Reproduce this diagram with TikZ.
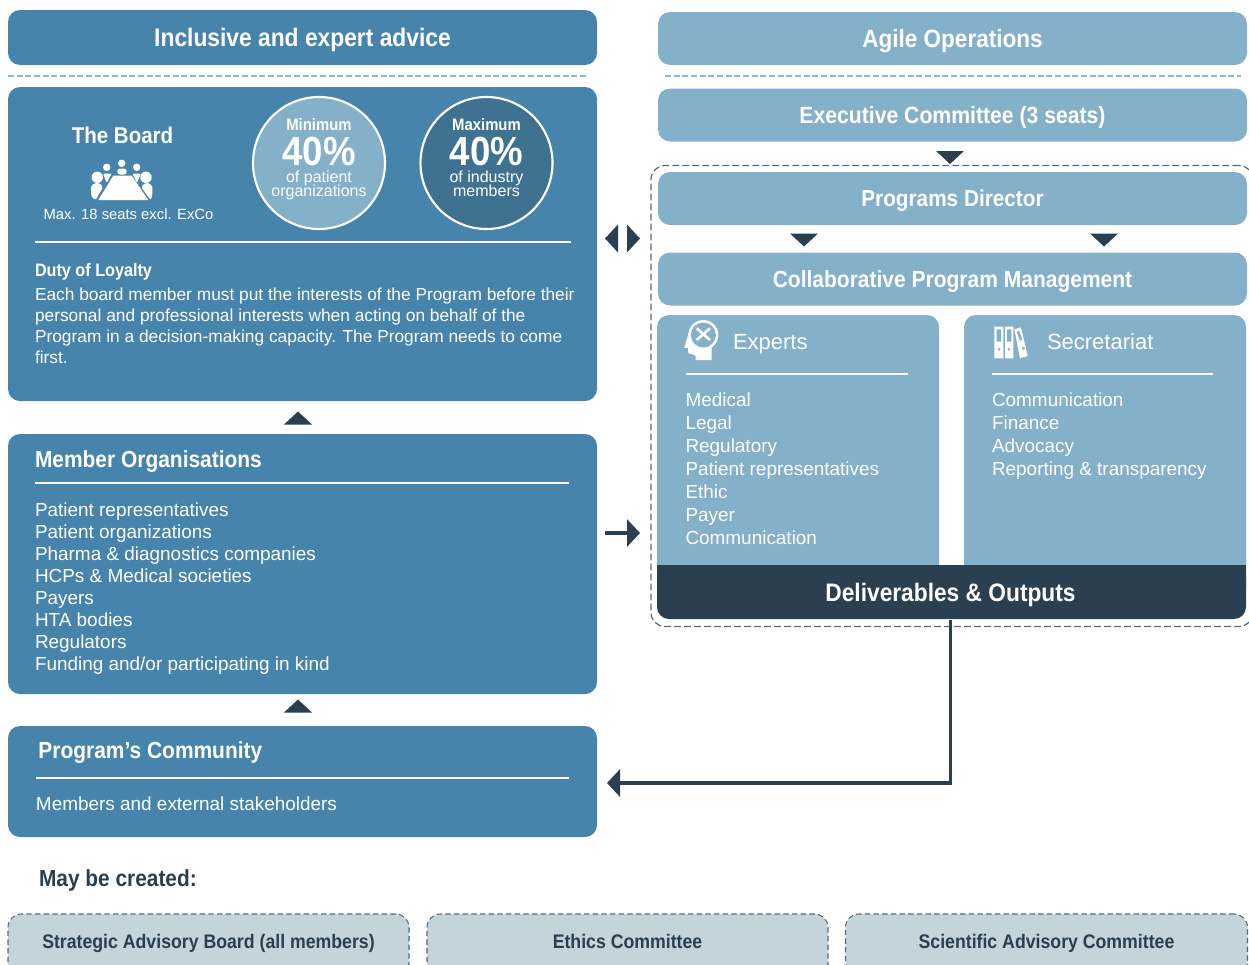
\documentclass[tikz,border=0pt]{standalone}
\usepackage{fontspec}
\setmainfont[BoldFeatures={FakeStretch=0.9}]{Liberation Sans}
\usetikzlibrary{shapes.geometric,arrows.meta}
\definecolor{boxblue}{HTML}{4784AB}
\definecolor{lightblue}{HTML}{84B0CA}
\definecolor{circleblue}{HTML}{3F7191}
\definecolor{darkblue}{HTML}{2A3F4F}
\definecolor{greyblue}{HTML}{C5D4DB}
\definecolor{ruleblue}{HTML}{8FB8D0}
\definecolor{dashgrey}{HTML}{56697A}
\newcommand{\fs}[1]{\fontsize{#1}{#1}\selectfont}
\begin{document}
\begin{tikzpicture}[x=0.75pt,y=-0.75pt,inner sep=0pt,outer sep=0pt,
>={Triangle[length=9.75pt,width=20.25pt]},
boldtext/.style={text=white,font=\bfseries\fs{#1},text height=#1*0.716pt,text depth=0pt},
plaintext/.style={text=white,font=\fs{#1},text height=#1*0.716pt,text depth=0pt},
darkbox/.style={rectangle,rounded corners=9pt,fill=boxblue,minimum width=589*0.75pt},
headbox/.style={rectangle,rounded corners=9pt,fill=lightblue,boldtext=#1,minimum width=589*0.75pt,minimum height=53*0.75pt},
dashbox/.style={rectangle,rounded corners=10pt,fill=greyblue,draw=dashgrey,dash pattern=on 4pt off 2.5pt,line width=0.8pt,minimum width=401*0.75pt,minimum height=70*0.75pt},
tridown/.style={isosceles triangle,isosceles triangle apex angle=92,isosceles triangle stretches,fill=darkblue,minimum width=28*0.75pt,minimum height=13*0.75pt,shape border rotate=-90},
triup/.style={tridown,shape border rotate=90},
trileft/.style={tridown,shape border rotate=180},
triright/.style={tridown,shape border rotate=0},
title/.style={text=white,font=\bfseries\fs{17.45},anchor=base west},
bodytext/.style={text=white,align=left,anchor=north west,font=\fontsize{14.2}{16.5}\selectfont},
whiterule/.style={white,line width=1.4pt},
pct/.style={circle,draw=white,line width=1.6pt,minimum size=132*0.75pt}]
\clip (0,0) rectangle (1249,964);
\useasboundingbox (0,0) rectangle (1249,964);
\draw (302.5,37.5) node[darkbox,minimum height=55*0.75pt,boldtext=19] (advice) {Inclusive and expert advice};
\draw (952.5,38.5) node[headbox=18.8] (agile) {Agile Operations};
\draw[ruleblue,dash pattern=on 4.5pt off 2pt,line width=0.9pt] (advice.south west) ++(0,11) -- ++(579,0);
\draw[ruleblue,dash pattern=on 4.5pt off 2pt,line width=0.9pt] (agile.south west) ++(7,11) -- ++(576,0);
\draw (302.5,244) node[darkbox,minimum height=314*0.75pt] (board) {};
\draw (122.5,135) node[boldtext=17.1] (boardname) {The Board};
\fill[white] (98.3,200) -- (113.3,175.7) -- (131.7,175.7) -- (148.3,200) -- cycle;
\fill[white] (121.7,163.3) circle (3.7) (106.7,167.3) circle (3.7) (136.7,167.3) circle (3.7) (97.3,177.3) circle (5.7) (146,177.3) circle (5.7);
\fill[white,rounded corners=2pt] (117.3,174.5) -- (117.3,168.5) -- (126.7,168.5) -- (126.7,174.5) -- cycle;
\fill[white,rounded corners=1pt] (103,173.5) -- (111.7,173.5) -- (106.7,183) -- cycle;
\fill[white,rounded corners=1pt] (141,173.5) -- (132.3,173.5) -- (137,183) -- cycle;
\fill[white,rounded corners=1.5pt] (91,196.7) -- (91,185) -- (98.3,182.3) -- (103.3,186.7) -- (95.7,200) -- cycle;
\fill[white,rounded corners=1.5pt] (152.3,196.7) -- (152.3,185) -- (146,182.3) -- (141,186.7) -- (150.5,200) -- cycle;
\draw (128.5,214) node[plaintext=11.1] (seats) {Max. 18 seats excl. ExCo};
\draw (319,163) node[pct,fill=lightblue] (mincircle) {};
\draw (486.5,163) node[pct,fill=circleblue] (maxcircle) {};
\draw (319,124.5) node[boldtext=12.4] (minlabel) {Minimum};
\draw (319,151) node[boldtext=30.5] (minpct) {40\%};
\draw (319,176.5) node[plaintext=12] (mintext) {of patient};
\draw (319,191) node[plaintext=12] (minorgs) {organizations};
\draw (486.5,124.5) node[boldtext=12.4] (maxlabel) {Maximum};
\draw (486.5,151) node[boldtext=30.5] (maxpct) {40\%};
\draw (486.5,176.5) node[plaintext=12] (maxtext) {of industry};
\draw (486.5,191) node[plaintext=12] (maxmembers) {members};
\draw[whiterule] (35,242) -- (571,242);
\draw (35,276.5) node[title,font=\bfseries\fs{13.5}] (duty) {Duty of Loyalty};
\draw (35,288) node[bodytext,font=\fontsize{13}{15.75}\selectfont] (dutytext) {Each board member must put the interests of the Program before their\\personal and professional interests when acting on behalf of the\\Program in a decision-making capacity. The Program needs to come\\first.};
\draw (298,419) node[triup] (triboard) {};
\draw (302.5,564) node[darkbox,minimum height=260*0.75pt] (members) {};
\draw (35,467.5) node[title] (membertitle) {Member Organisations};
\draw[whiterule] (35,483) -- (569,483);
\draw (35,503) node[bodytext] (memberlist) {Patient representatives\\Patient organizations\\Pharma \& diagnostics companies\\HCPs \& Medical societies\\Payers\\HTA bodies\\Regulators\\Funding and/or participating in kind};
\draw (298,707) node[triup] (trimembers) {};
\draw (302.5,781.5) node[darkbox,minimum height=111*0.75pt] (community) {};
\draw (38.5,758.5) node[title] (commtitle) {Program’s Community};
\draw[whiterule] (36,778) -- (569,778);
\draw (36,797) node[bodytext] (commtext) {Members and external stakeholders};
\draw (952.5,115) node[headbox=17.65] (exco) {Executive Committee (3 seats)};
\draw (950,156.5) node[tridown] (triexco) {};
\draw (952,396) node[rectangle,rounded corners=10.5pt,draw=dashgrey,dash pattern=on 5pt off 2.5pt,line width=0.9pt,minimum width=602*0.75pt,minimum height=461*0.75pt] (program) {};
\draw (952.5,198.5) node[headbox=17.3] (director) {Programs Director};
\draw (804,239) node[tridown] (trimgmt1) {};
\draw (1104,239) node[tridown] (trimgmt2) {};
\draw (952.5,279) node[headbox=17.5] (mgmt) {Collaborative Program Management};
\fill[lightblue,rounded corners=9pt] (657,600) -- (657,315) -- (939,315) -- (939,600) -- cycle;
\fill[lightblue,rounded corners=9pt] (964,600) -- (964,315) -- (1246,315) -- (1246,600) -- cycle;
\fill[darkblue,rounded corners=9pt] (657,565) -- (1246,565) -- (1246,619) -- (657,619) -- cycle;
\fill[darkblue] (657,565) rectangle (1246,580);
\draw (950.5,592.5) node[minimum width=589*0.75pt,minimum height=54*0.75pt,boldtext=18.95] (deliver) {Deliverables \& Outputs};
\draw (733,342) node[anchor=west,plaintext=16.5] (experts) {Experts};
\fill[white] (703.3,335) circle (15);
\fill[white] (689,331.7) -- (684.3,347.7) -- (688,348) -- (688.3,353) -- (695.7,355.7) -- (695.7,360) -- (711.7,360) -- (711.7,345) -- cycle;
\fill[lightblue] (703.3,335) circle (12.5);
\draw[white,line width=2pt] (696.7,328.3) -- (710,340) (710,328.3) -- (696.7,340);
\draw[whiterule,line width=1.2pt] (686,374) -- (908,374);
\draw (685.5,393) node[bodytext,font=\fontsize{14.2}{17.25}\selectfont] (expertlist) {Medical\\Legal\\Regulatory\\Patient representatives\\Ethic\\Payer\\Communication};
\draw (1047,342) node[anchor=west,plaintext=16.5] (secretariat) {Secretariat};
\fill[white] (994.3,326.7) rectangle (1003.3,358.3) (1005,326.7) rectangle (1013.3,358.3);
\fill[white] (1014.3,329.3) -- (1021,327.3) -- (1027.7,356) -- (1020,358.3) -- cycle;
\fill[lightblue] (996.7,329.3) rectangle (1001,341.7) (1007,329.3) rectangle (1011.3,341.7);
\fill[lightblue] (1016.7,331.7) -- (1019.3,331) -- (1022.3,340) -- (1020,340.7) -- cycle;
\fill[lightblue] (999,349.3) circle (1.5) (1009,349.3) circle (1.5) (1023.3,348.3) circle (1.5);
\draw[whiterule,line width=1.2pt] (992,374) -- (1213,374);
\draw (992,393) node[bodytext,font=\fontsize{14.2}{17.25}\selectfont] (secretlist) {Communication\\Finance\\Advocacy\\Reporting \& transparency};
\draw (612.5,238.5) node[trileft] (trileft1) {};
\draw (632.5,238.5) node[triright] (triright1) {};
\coordinate (membersout) at (605,533);
\coordinate (programin) at (640,533);
\coordinate (communityin) at (607,783);
\draw[->,darkblue,line width=2.5pt] (membersout) -- (programin);
\draw[->,darkblue,line width=2.5pt] (deliver.south) |- (communityin);
\draw (39,878) node[anchor=west,boldtext=17.4,text=darkblue] (maybe) {May be created:};
\draw (208.5,949) node[dashbox] (sab) {};
\draw (627.5,949) node[dashbox] (ethics) {};
\draw (1046.5,949) node[dashbox,minimum width=402*0.75pt] (sci) {};
\draw (208.5,941) node[boldtext=14.75,text=darkblue] (sabtext) {Strategic Advisory Board (all members)};
\draw (627.5,941) node[boldtext=14.75,text=darkblue] (ethicstext) {Ethics Committee};
\draw (1046.5,941) node[boldtext=14.75,text=darkblue] (scitext) {Scientific Advisory Committee};
\end{tikzpicture}
\end{document}
